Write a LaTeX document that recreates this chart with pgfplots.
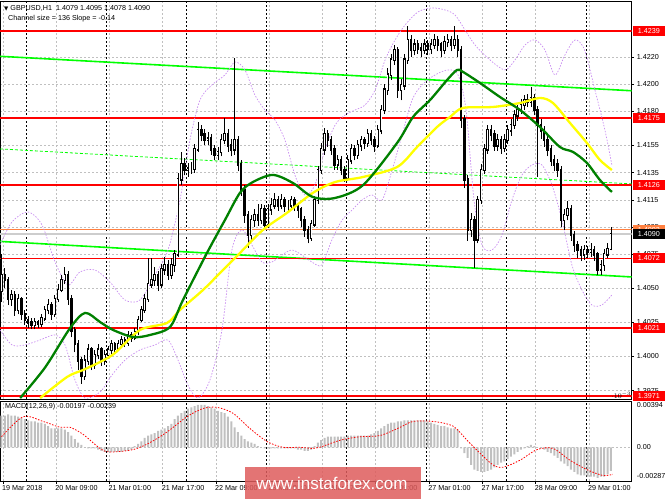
\documentclass[border=0pt]{standalone}
\usepackage{pgfplots}
\pgfplotsset{compat=1.18}
\usepackage{pgfplotstable}
\usepackage{fontspec}
\setmainfont{Liberation Sans}
\newfontfamily\symfont{DejaVu Sans}
\definecolor{lvlred}{RGB}{255,0,0}
\definecolor{chgreen}{RGB}{0,255,0}
\definecolor{magreen}{RGB}{0,128,0}
\definecolor{mayellow}{RGB}{255,255,0}
\definecolor{band}{RGB}{200,140,240}
\definecolor{gridgray}{RGB}{192,192,192}
\definecolor{histgray}{RGB}{192,192,192}
\definecolor{orangeline}{RGB}{255,128,64}
\definecolor{bidgray}{RGB}{205,205,205}
\definecolor{wm}{RGB}{222,92,92}
\newcommand\tf{\fontsize{7.2bp}{8.6bp}\selectfont}

\pgfplotstableread{
i o h l c
0 1.4048 1.4075 1.4040 1.4060
1 1.4060 1.4065 1.4050 1.4056
2 1.4056 1.4058 1.4038 1.4042
3 1.4042 1.4049 1.4037 1.4045
4 1.4045 1.4048 1.4030 1.4034
5 1.4034 1.4046 1.4031 1.4042
6 1.4042 1.4044 1.4027 1.4031
7 1.4031 1.4034 1.4023 1.4027
8 1.4027 1.4030 1.4021 1.4025
9 1.4025 1.4028 1.4020 1.4023
10 1.4023 1.4028 1.4020 1.4025
11 1.4025 1.4027 1.4021 1.4024
12 1.4024 1.4031 1.4022 1.4028
13 1.4028 1.4037 1.4026 1.4034
14 1.4034 1.4042 1.4031 1.4038
15 1.4038 1.4040 1.4027 1.4031
16 1.4031 1.4045 1.4029 1.4042
17 1.4042 1.4053 1.4040 1.4049
18 1.4049 1.4060 1.4047 1.4056
19 1.4056 1.4066 1.4053 1.4060
20 1.4060 1.4063 1.4038 1.4042
21 1.4042 1.4045 1.4014 1.4019
22 1.4019 1.4022 1.4003 1.4009
23 1.4009 1.4012 1.3990 1.3997
24 1.3997 1.4000 1.3980 1.3986
25 1.3986 1.4001 1.3983 1.3997
26 1.3997 1.4009 1.3994 1.4005
27 1.4005 1.4007 1.3990 1.3994
28 1.3994 1.4005 1.3991 1.4001
29 1.4001 1.4009 1.3998 1.4005
30 1.4005 1.4007 1.3993 1.3997
31 1.3997 1.4005 1.3994 1.4001
32 1.4001 1.4008 1.3998 1.4005
33 1.4005 1.4012 1.4002 1.4009
34 1.4009 1.4011 1.4003 1.4006
35 1.4006 1.4012 1.4004 1.4009
36 1.4009 1.4015 1.4006 1.4012
37 1.4012 1.4014 1.4007 1.4010
38 1.4010 1.4019 1.4008 1.4016
39 1.4016 1.4018 1.4011 1.4014
40 1.4014 1.4021 1.4012 1.4018
41 1.4018 1.4030 1.4016 1.4027
42 1.4027 1.4037 1.4025 1.4034
43 1.4034 1.4046 1.4032 1.4042
44 1.4042 1.4072 1.4040 1.4053
45 1.4053 1.4072 1.4050 1.4056
46 1.4056 1.4066 1.4052 1.4060
47 1.4060 1.4063 1.4048 1.4053
48 1.4053 1.4068 1.4050 1.4064
49 1.4064 1.4073 1.4060 1.4067
50 1.4067 1.4071 1.4056 1.4060
51 1.4060 1.4072 1.4057 1.4067
52 1.4067 1.4078 1.4062 1.4075
53 1.4075 1.4135 1.4073 1.4130
54 1.4130 1.4150 1.4126 1.4141
55 1.4141 1.4146 1.4133 1.4137
56 1.4137 1.4142 1.4132 1.4138
57 1.4138 1.4143 1.4134 1.4138
58 1.4138 1.4156 1.4135 1.4152
59 1.4152 1.4172 1.4150 1.4166
60 1.4166 1.4170 1.4158 1.4163
61 1.4163 1.4167 1.4155 1.4159
62 1.4159 1.4165 1.4155 1.4160
63 1.4160 1.4163 1.4148 1.4152
64 1.4152 1.4155 1.4144 1.4148
65 1.4148 1.4154 1.4144 1.4150
66 1.4150 1.4163 1.4147 1.4159
67 1.4159 1.4175 1.4156 1.4163
68 1.4163 1.4167 1.4150 1.4155
69 1.4155 1.4160 1.4147 1.4152
70 1.4152 1.4219 1.4148 1.4159
71 1.4159 1.4162 1.4136 1.4141
72 1.4141 1.4144 1.4118 1.4122
73 1.4122 1.4126 1.4098 1.4104
74 1.4104 1.4107 1.4080 1.4089
75 1.4089 1.4104 1.4085 1.4100
76 1.4100 1.4108 1.4095 1.4104
77 1.4104 1.4112 1.4096 1.4100
78 1.4100 1.4112 1.4097 1.4108
79 1.4108 1.4111 1.4093 1.4097
80 1.4097 1.4112 1.4094 1.4108
81 1.4108 1.4116 1.4104 1.4111
82 1.4111 1.4120 1.4108 1.4115
83 1.4115 1.4118 1.4107 1.4111
84 1.4111 1.4119 1.4108 1.4115
85 1.4115 1.4117 1.4106 1.4111
86 1.4111 1.4115 1.4106 1.4111
87 1.4111 1.4118 1.4108 1.4115
88 1.4115 1.4117 1.4107 1.4111
89 1.4111 1.4113 1.4102 1.4108
90 1.4108 1.4110 1.4095 1.4100
91 1.4100 1.4103 1.4088 1.4093
92 1.4093 1.4096 1.4083 1.4087
93 1.4087 1.4100 1.4085 1.4097
94 1.4097 1.4118 1.4095 1.4115
95 1.4115 1.4140 1.4112 1.4137
96 1.4137 1.4157 1.4134 1.4152
97 1.4152 1.4168 1.4148 1.4163
98 1.4163 1.4166 1.4154 1.4159
99 1.4159 1.4162 1.4148 1.4152
100 1.4152 1.4155 1.4137 1.4141
101 1.4141 1.4148 1.4137 1.4144
102 1.4144 1.4147 1.4133 1.4137
103 1.4137 1.4140 1.4128 1.4131
104 1.4131 1.4148 1.4129 1.4144
105 1.4144 1.4156 1.4141 1.4152
106 1.4152 1.4155 1.4144 1.4148
107 1.4148 1.4159 1.4145 1.4155
108 1.4155 1.4162 1.4151 1.4159
109 1.4159 1.4161 1.4152 1.4157
110 1.4157 1.4167 1.4154 1.4163
111 1.4163 1.4166 1.4155 1.4159
112 1.4159 1.4162 1.4150 1.4155
113 1.4155 1.4170 1.4153 1.4166
114 1.4166 1.4185 1.4163 1.4181
115 1.4181 1.4200 1.4178 1.4196
116 1.4196 1.4212 1.4192 1.4207
117 1.4207 1.4222 1.4203 1.4218
118 1.4218 1.4229 1.4214 1.4225
119 1.4225 1.4227 1.4190 1.4196
120 1.4196 1.4204 1.4188 1.4199
121 1.4199 1.4222 1.4196 1.4218
122 1.4218 1.4243 1.4215 1.4232
123 1.4232 1.4236 1.4220 1.4225
124 1.4225 1.4233 1.4221 1.4229
125 1.4229 1.4232 1.4222 1.4226
126 1.4226 1.4230 1.4220 1.4225
127 1.4225 1.4233 1.4222 1.4229
128 1.4229 1.4232 1.4221 1.4226
129 1.4226 1.4233 1.4222 1.4229
130 1.4229 1.4237 1.4226 1.4232
131 1.4232 1.4235 1.4224 1.4229
132 1.4229 1.4231 1.4220 1.4225
133 1.4225 1.4235 1.4222 1.4231
134 1.4231 1.4237 1.4227 1.4232
135 1.4232 1.4235 1.4224 1.4229
136 1.4229 1.4243 1.4226 1.4232
137 1.4232 1.4236 1.4220 1.4225
138 1.4225 1.4228 1.4168 1.4174
139 1.4174 1.4177 1.4124 1.4130
140 1.4130 1.4133 1.4085 1.4093
141 1.4093 1.4105 1.4088 1.4100
142 1.4100 1.4103 1.4065 1.4086
143 1.4086 1.4118 1.4083 1.4115
144 1.4115 1.4141 1.4112 1.4137
145 1.4137 1.4156 1.4134 1.4152
146 1.4152 1.4170 1.4149 1.4166
147 1.4166 1.4170 1.4158 1.4163
148 1.4163 1.4166 1.4151 1.4155
149 1.4155 1.4163 1.4151 1.4159
150 1.4159 1.4162 1.4149 1.4153
151 1.4153 1.4163 1.4150 1.4159
152 1.4159 1.4170 1.4156 1.4166
153 1.4166 1.4174 1.4162 1.4170
154 1.4170 1.4181 1.4167 1.4177
155 1.4177 1.4185 1.4173 1.4181
156 1.4181 1.4189 1.4178 1.4185
157 1.4185 1.4192 1.4181 1.4188
158 1.4188 1.4193 1.4183 1.4187
159 1.4187 1.4198 1.4183 1.4190
160 1.4190 1.4193 1.4177 1.4181
161 1.4181 1.4184 1.4132 1.4170
162 1.4170 1.4174 1.4160 1.4166
163 1.4166 1.4169 1.4154 1.4159
164 1.4159 1.4162 1.4147 1.4152
165 1.4152 1.4155 1.4140 1.4144
166 1.4144 1.4148 1.4136 1.4141
167 1.4141 1.4145 1.4132 1.4137
168 1.4137 1.4140 1.4095 1.4100
169 1.4100 1.4108 1.4093 1.4104
170 1.4104 1.4114 1.4100 1.4108
171 1.4108 1.4111 1.4085 1.4089
172 1.4089 1.4092 1.4077 1.4082
173 1.4082 1.4085 1.4072 1.4078
174 1.4078 1.4081 1.4070 1.4075
175 1.4075 1.4082 1.4071 1.4078
176 1.4078 1.4081 1.4072 1.4077
177 1.4077 1.4083 1.4073 1.4078
178 1.4078 1.4081 1.4070 1.4075
179 1.4075 1.4077 1.4060 1.4064
180 1.4064 1.4071 1.4060 1.4067
181 1.4067 1.4079 1.4063 1.4075
182 1.4075 1.4083 1.4072 1.4079
183 1.4079 1.4095 1.4078 1.4090
}\candles

\begin{document}
\begin{tikzpicture}
\path[use as bounding box] (0,0) rectangle (665bp,499bp);

% ---------------- main price panel ----------------
\begin{axis}[
  at={(0bp,100bp)}, anchor=south west,
  width=631.7bp, height=398bp, scale only axis,
  xmin=-0.45, xmax=189.25,
  ymin=1.39688, ymax=1.42610,
  axis line style={black, line width=0.8bp},
  xtick={0.4,16.4,32.4,48.4,64.4,80.4,96.4,112.4,128.4,144.4,160.4,176.4},
  xticklabels={}, xtick style={draw=none},
  extra x ticks={7.6,31.6,55.6,79.6,103.6,127.6,151.6,175.6},
  extra x tick labels={},
  extra x tick style={grid=major, major grid style={black, dash pattern=on 2bp off 2bp, line width=0.7bp}, tick style={draw=none}},
  xmajorgrids, ymajorgrids,
  grid style={gridgray, dash pattern=on 2bp off 2bp, line width=0.6bp},
  ytick={1.3975,1.4000,1.4025,1.4050,1.4075,1.4095,1.4115,1.4135,1.4155,1.4180,1.4200,1.4220},
  yticklabels={1.3975,1.4000,1.4025,1.4050,1.4075,1.4095,1.4115,1.4135,1.4155,1.4180,1.4200,1.4220},
  ytick pos=right, yticklabel pos=right,
  tick align=outside, major tick length=2.5bp,
  ytick style={black, line width=0.6bp},
  yticklabel style={font=\tf, inner sep=0pt, xshift=2.5bp},
]
% regression channel
\addplot[chgreen, line width=1.6bp] coordinates {(-0.45,1.42204) (189.25,1.41951)};
\addplot[chgreen, line width=1.6bp] coordinates {(-0.45,1.40845) (189.25,1.40584)};
\addplot[chgreen, line width=0.8bp, dash pattern=on 3bp off 2bp] coordinates {(-0.45,1.41524) (189.25,1.41267)};
% levels
\addplot[bidgray, line width=1.6bp] coordinates {(-0.45,1.4090) (189.25,1.4090)};
\addplot[orangeline, line width=1.2bp] coordinates {(-0.45,1.4093) (189.25,1.4093)};
\addplot[lvlred, line width=1.6bp] coordinates {(-0.45,1.4239) (189.25,1.4239)};
\addplot[lvlred, line width=1.6bp] coordinates {(-0.45,1.4175) (189.25,1.4175)};
\addplot[lvlred, line width=1.6bp] coordinates {(-0.45,1.4126) (189.25,1.4126)};
\addplot[lvlred, line width=1.6bp] coordinates {(-0.45,1.4072) (189.25,1.4072)};
\addplot[lvlred, line width=1.6bp] coordinates {(-0.45,1.4021) (189.25,1.4021)};
\addplot[lvlred, line width=1.6bp] coordinates {(-0.45,1.3971) (189.25,1.3971)};
% bands
\addplot[band, line width=0.7bp, dash pattern=on 1.5bp off 1.5bp, smooth] coordinates {
(-0.45,1.40819) (3.15,1.40988) (7.96,1.41061) (12.16,1.40966) (16.07,1.40694) (19.97,1.40525)
(23.57,1.40621) (28.08,1.40635) (32.58,1.40547) (37.09,1.40415) (41.59,1.40415) (46.10,1.40599)
(50.0,1.40782) (53.6,1.41149) (56.6,1.41590) (59.6,1.41883) (63.2,1.41994) (67.1,1.42067)
(70.1,1.42162) (73.1,1.42104) (76.1,1.41920) (79.1,1.41810) (82.1,1.41737) (85.1,1.41590)
(88.1,1.41333) (91.1,1.41186) (94.1,1.41259) (97.1,1.41516) (100.2,1.41700) (103.2,1.41773)
(106.2,1.41810) (109.2,1.41847) (112.2,1.41957) (115.2,1.42177) (118.2,1.42324) (121.2,1.42434)
(125.1,1.42530) (129.3,1.42559) (133.2,1.42544) (136.2,1.42507) (139.2,1.42397) (142.2,1.42287)
(146.7,1.42177) (151.2,1.42104) (154.2,1.42177) (157.2,1.42287) (160.2,1.42324) (163.2,1.42250)
(166.2,1.42067) (169.2,1.42214) (172.2,1.42324) (175.1,1.42250) (178.2,1.41957) (181.2,1.41663)
(183.3,1.41406)};
\addplot[band, line width=0.7bp, dash pattern=on 1.5bp off 1.5bp, smooth] coordinates {
(-0.45,1.40195) (3.15,1.40085) (7.06,1.40085) (11.56,1.40121) (16.07,1.40158) (19.07,1.40085)
(22.07,1.39828) (25.08,1.39695) (29.58,1.39739) (33.18,1.39864) (37.09,1.39974) (41.59,1.40048)
(46.10,1.40085) (50.0,1.40121) (53.0,1.39974) (56.0,1.39790) (59.0,1.39695) (62.6,1.39828)
(66.2,1.40195) (69.2,1.40782) (72.2,1.40929) (75.2,1.40819) (78.2,1.40694) (81.2,1.40694)
(84.2,1.40745) (87.2,1.40782) (90.2,1.40745) (93.2,1.40694) (96.2,1.40672) (99.2,1.40855)
(102.3,1.41002) (105.3,1.41076) (108.3,1.41149) (111.3,1.41186) (114.3,1.41149) (117.3,1.41369)
(120.3,1.41626) (123.3,1.41883) (126.3,1.41994) (130.2,1.42067) (134.1,1.42104) (137.1,1.42067)
(139.5,1.41810) (141.9,1.41149) (144.3,1.40819) (147.3,1.40782) (150.3,1.40892) (153.3,1.41149)
(156.3,1.41333) (159.3,1.41406) (162.3,1.41406) (165.3,1.41259) (168.3,1.41002) (171.3,1.40672)
(174.3,1.40488) (177.3,1.40378) (180.3,1.40378) (183.3,1.40452)};
% candles: wicks
\addplot[draw=none, forget plot, error bars/.cd, y dir=plus, y explicit, error mark=none,
  error bar style={draw=black, line width=0.7bp}]
  table[x=i, y=l, y error plus expr={\thisrow{h}-\thisrow{l}}] {\candles};
% candles: body outlines
\addplot[draw=none, forget plot, error bars/.cd, y dir=plus, y explicit, error mark=none,
  error bar style={draw=black, line width=2.4bp, line cap=rect}]
  table[x=i, y expr={min(\thisrow{o},\thisrow{c})}, y error plus expr={abs(\thisrow{c}-\thisrow{o})}] {\candles};
% candles: white interiors of rising bars
\addplot[draw=none, forget plot, error bars/.cd, y dir=plus, y explicit, error mark=none,
  error bar style={draw=white, line width=1.0bp, line cap=butt}]
  table[x=i, y=o, y error plus expr={max(\thisrow{c}-\thisrow{o},0)}] {\candles};
% moving averages
\addplot[mayellow, line width=2.3bp, smooth] coordinates {
(11.6,1.39695) (19.7,1.39850) (24.5,1.39901) (29.6,1.39960) (34.1,1.40026) (41.6,1.40195)
(49.7,1.40246) (53.6,1.40342) (60.5,1.40488) (67.1,1.40650) (71.6,1.40760) (78.5,1.40929)
(85.7,1.41054) (93.5,1.41201) (100.2,1.41281) (108.6,1.41318) (118.8,1.41391) (124.8,1.41538)
(130.8,1.41685) (134.7,1.41759) (138.6,1.41825) (147.6,1.41832) (155.7,1.41861) (161.7,1.41898)
(165.6,1.41861) (170.7,1.41715) (175.8,1.41568) (179.7,1.41443) (183.3,1.41369)};
\addplot[magreen, line width=2.3bp, smooth] coordinates {
(5.6,1.39695) (13.1,1.39920) (20.6,1.40209) (25.1,1.40320) (29.6,1.40253) (33.5,1.40195)
(39.5,1.40143) (44.6,1.40158) (50.6,1.40217) (54.5,1.40415) (61.7,1.40760) (67.1,1.41002)
(71.6,1.41201) (75.5,1.41281) (81.5,1.41333) (87.5,1.41274) (93.5,1.41171) (100.2,1.41164)
(108.6,1.41259) (118.8,1.41568) (123.6,1.41759) (128.7,1.41883) (133.8,1.42030) (136.8,1.42104)
(138.6,1.42089) (143.7,1.42008) (149.7,1.41905) (155.7,1.41810) (161.7,1.41685) (167.7,1.41538)
(171.6,1.41502) (175.8,1.41421) (179.7,1.41296) (183.3,1.41208)};
% anchors for price boxes
\coordinate (b4239) at (axis cs:189.25,1.4239);
\coordinate (b4175) at (axis cs:189.25,1.4175);
\coordinate (b4126) at (axis cs:189.25,1.4126);
\coordinate (b4093) at (axis cs:189.25,1.4093);
\coordinate (b4090) at (axis cs:189.25,1.4090);
\coordinate (b4072) at (axis cs:189.25,1.4072);
\coordinate (b4021) at (axis cs:189.25,1.4021);
\coordinate (b3971) at (axis cs:189.25,1.3971);
\end{axis}

% ---------------- MACD panel ----------------
\begin{axis}[
  at={(0bp,18bp)}, anchor=south west,
  width=631.7bp, height=80bp, scale only axis,
  xmin=-0.45, xmax=189.25,
  ymin=-0.00287, ymax=0.00394,
  axis line style={black, line width=0.8bp},
  xtick={0.4,16.4,32.4,48.4,64.4,80.4,96.4,112.4,128.4,144.4,160.4,176.4},
  xticklabels={19 Mar 2018,20 Mar 09:00,21 Mar 01:00,21 Mar 17:00,22 Mar 09:00,23 Mar 01:00,23 Mar 17:00,26 Mar 09:00,27 Mar 01:00,27 Mar 17:00,28 Mar 09:00,29 Mar 01:00},
  xtick pos=bottom, tick align=outside, major tick length=2.5bp,
  xtick style={black, line width=0.6bp},
  xticklabel style={font=\tf, anchor=north west, inner sep=0pt, xshift=-1bp, yshift=-2bp},
  xmajorgrids,
  grid style={gridgray, dash pattern=on 2bp off 2bp, line width=0.6bp},
  extra x ticks={7.6,31.6,55.6,79.6,103.6,127.6,151.6,175.6},
  extra x tick labels={},
  extra x tick style={grid=major, major grid style={black, dash pattern=on 2bp off 2bp, line width=0.7bp}, tick style={draw=none}},
  ytick={-0.00244,0,0.0036},
  yticklabels={-0.00287,0.00,0.00394},
  ytick pos=right, yticklabel pos=right,
  ytick style={draw=none},
  yticklabel style={font=\tf, inner sep=0pt, xshift=2.5bp},
  extra y ticks={0}, extra y tick labels={},
  extra y tick style={grid=major, major grid style={gridgray, dash pattern=on 2bp off 2bp, line width=0.6bp}},
]
\addplot[ybar, bar width=2bp, fill=histgray, draw=none] coordinates {
(0,0.0027) (1,0.0027) (2,0.0028) (3,0.0027) (4,0.0027) (5,0.0026) (6,0.0025) (7,0.0024) (8,0.0023) (9,0.0022)
(10,0.0022) (11,0.0021) (12,0.0021) (13,0.0020) (14,0.0018) (15,0.0016) (16,0.0016) (17,0.0016) (18,0.0016) (19,0.0015)
(20,0.0013) (21,0.0010) (22,0.0007) (23,0.0004) (24,0.0002) (25,0.0000) (26,-0.0001) (27,-0.0001) (28,-0.0001) (29,-0.0002)
(30,-0.0003) (31,-0.0004) (32,-0.0004) (33,-0.0004) (34,-0.0004) (35,-0.0004) (36,-0.0004) (37,-0.0003) (38,-0.0003) (39,-0.0002)
(40,0.0001) (41,0.0003) (42,0.0005) (43,0.0008) (44,0.0010) (45,0.0011) (46,0.0012) (47,0.0014) (48,0.0015) (49,0.0016)
(50,0.0018) (51,0.0020) (52,0.0024) (53,0.0027) (54,0.0029) (55,0.0031) (56,0.0033) (57,0.0034) (58,0.0035) (59,0.0036)
(60,0.0036) (61,0.0036) (62,0.0035) (63,0.0034) (64,0.0033) (65,0.0031) (66,0.0030) (67,0.0029) (68,0.0026) (69,0.0022)
(70,0.0017) (71,0.0013) (72,0.0010) (73,0.0007) (74,0.0005) (75,0.0004) (76,0.0003) (77,0.0001) (78,0.0000) (79,-0.0001)
(80,-0.0001) (81,-0.0001) (82,-0.0001) (83,-0.0001) (84,-0.0001) (85,-0.0001) (86,-0.0001) (87,-0.0001) (88,-0.0001) (89,-0.0002)
(90,-0.0002) (91,-0.0003) (92,-0.0003) (93,-0.0002) (94,0.0001) (95,0.0004) (96,0.0006) (97,0.0008) (98,0.0009) (99,0.0009)
(100,0.0009) (101,0.0009) (102,0.0009) (103,0.0009) (104,0.0010) (105,0.0010) (106,0.0010) (107,0.0010) (108,0.0010) (109,0.0010)
(110,0.0010) (111,0.0011) (112,0.0012) (113,0.0014) (114,0.0016) (115,0.0018) (116,0.0020) (117,0.0021) (118,0.0021) (119,0.0022)
(120,0.0022) (121,0.0023) (122,0.0023) (123,0.0023) (124,0.0023) (125,0.0023) (126,0.0023) (127,0.0023) (128,0.0022) (129,0.0021)
(130,0.0020) (131,0.0019) (132,0.0018) (133,0.0018) (134,0.0017) (135,0.0016) (136,0.0016) (137,0.0015) (138,-0.0001) (139,-0.0005)
(140,-0.0009) (141,-0.0015) (142,-0.0019) (143,-0.0020) (144,-0.0021) (145,-0.0021) (146,-0.0020) (147,-0.0019) (148,-0.0017) (149,-0.0015)
(150,-0.0013) (151,-0.0012) (152,-0.0010) (153,-0.0008) (154,-0.0006) (155,-0.0004) (156,-0.0002) (157,-0.0001) (158,0.0001) (159,0.0002)
(160,0.0001) (161,0.0000) (162,-0.0001) (163,-0.0002) (164,-0.0004) (165,-0.0005) (166,-0.0007) (167,-0.0009) (168,-0.0012) (169,-0.0014)
(170,-0.0016) (171,-0.0019) (172,-0.0021) (173,-0.0023) (174,-0.0024) (175,-0.0024) (176,-0.0025) (177,-0.0025) (178,-0.0025) (179,-0.0026)
(180,-0.0025) (181,-0.0025) (182,-0.0023) (183,-0.0020)};
\addplot[lvlred, line width=0.8bp, dash pattern=on 1.5bp off 1.5bp, smooth] coordinates {
(0,0.0009) (6.5,0.0026) (12.5,0.0022) (17.6,0.0017) (20.6,0.0017) (24.5,0.0011) (29.6,-0.0001)
(32.6,-0.0004) (39.5,-0.0002) (44.6,0.0004) (49.7,0.0013) (55.7,0.0026) (60.5,0.0033) (64.7,0.0034)
(69.5,0.0029) (74.6,0.0016) (79.7,0.0005) (84.5,0.0000) (89.6,0.0000) (93.5,-0.0001) (95.6,0.0000)
(101.7,0.0006) (107.7,0.0009) (113.7,0.0010) (119.7,0.0017) (123.6,0.0022) (129.6,0.0022) (135.6,0.0018)
(139.8,0.0006) (143.7,-0.0005) (147.6,-0.0015) (150.6,-0.0017) (155.7,-0.0011) (160.8,-0.0002)
(165.6,-0.0001) (170.7,-0.0011) (175.8,-0.0019) (180.6,-0.0024) (183.6,-0.0023)};
\end{axis}

% ---------------- texts ----------------
\node[anchor=west, inner sep=0pt, font=\tf] at (4bp,491bp) {{\symfont\fontsize{5.5bp}{6bp}\selectfont ▼}\ GBPUSD,H1\ \ 1.4079 1.4095 1.4078 1.4090};
\node[anchor=west, inner sep=0pt, font=\tf] at (8bp,480bp) {Channel size = 136 Slope = -0.14};
\node[anchor=west, inner sep=0pt, font=\tf] at (5bp,92bp) {MACD(12,26,9) -0.00197 -0.00239};

\tikzset{pbox/.style={anchor=west, text=white, font=\tf, inner xsep=0pt, inner ysep=1.3bp, minimum width=32bp, minimum height=10bp, align=center}}
\node[pbox, fill=lvlred] at ([xshift=1bp]b4239) {1.4239};
\node[pbox, fill=lvlred] at ([xshift=1bp]b4175) {1.4175};
\node[pbox, fill=lvlred] at ([xshift=1bp]b4126) {1.4126};
\node[pbox, fill=orangeline] at ([xshift=1bp]b4093) {1.4093};
\node[pbox, fill=black] at ([xshift=1bp]b4090) {1.4090};
\node[pbox, fill=lvlred] at ([xshift=1bp]b4072) {1.4072};
\node[pbox, fill=lvlred] at ([xshift=1bp]b4021) {1.4021};
\node[pbox, fill=lvlred] at ([xshift=1bp]b3971) {1.3971};

% watermark
\fill[wm, fill opacity=0.85] (245bp,0bp) rectangle (421bp,32bp);
\node[text=white, font=\fontsize{17bp}{19bp}\selectfont, inner sep=0pt] at (332bp,16bp) {www.instaforex.com};
\end{tikzpicture}
\end{document}
